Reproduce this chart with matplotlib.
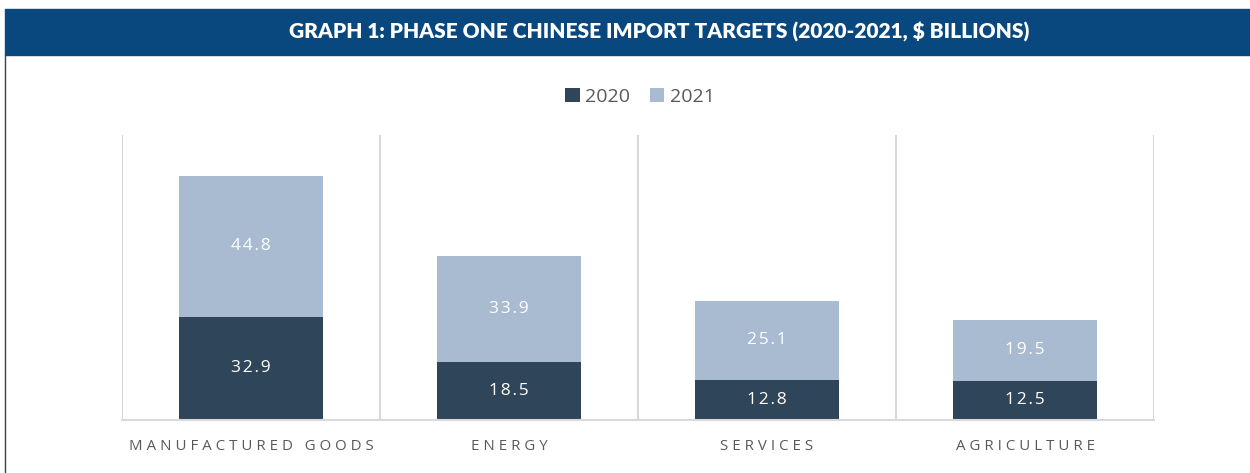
import matplotlib.pyplot as plt
import numpy as np
from matplotlib.patches import Rectangle
from matplotlib.lines import Line2D

# 图中的数据
categories = ['MANUFACTURED GOODS', 'ENERGY', 'SERVICES', 'AGRICULTURE']
vals_2020 = [32.9, 18.5, 12.8, 12.5]
vals_2021 = [44.8, 33.9, 25.1, 19.5]
series_names = ['2020', '2021']

c2020 = '#2F4559'
c2021 = '#A8BBD1'
grid_c = '#D9D9D9'
txt_c = '#595959'
fam = ['Open Sans', 'DejaVu Sans']


def spaced(s, sep='\u2009'):
    # 模拟字间距
    return sep.join(s)


fig = plt.figure(figsize=(12.5, 4.73), dpi=100)

# 标题横幅
fig.patches.append(Rectangle((5 / 1250, 1 - 55 / 473), 1 - 5 / 1250, 46 / 473,
                             transform=fig.transFigure, color='#09477F', zorder=0))
fig.text(0.527, 1 - 32 / 473, 'GRAPH 1: PHASE ONE CHINESE IMPORT TARGETS (2020-2021, $ BILLIONS)',
         color='white', fontsize=15, fontweight='heavy', family=['Lato', 'DejaVu Sans'],
         ha='center', va='center')
# 左边框
fig.lines.append(Line2D([5 / 1250, 5 / 1250], [0, 1 - 55 / 473], transform=fig.transFigure,
                        color='#404040', lw=1.0))

ax = fig.add_axes([122 / 1250, 53 / 473, 1032 / 1250, 285 / 473])
x = np.arange(len(categories))
w = 0.558
b1 = ax.bar(x, vals_2020, w, color=c2020, label=series_names[0], zorder=2)
b2 = ax.bar(x, vals_2021, w, bottom=vals_2020, color=c2021, label=series_names[1], zorder=2)

for i in range(len(categories)):
    ax.text(x[i], vals_2020[i] / 2, spaced(f'{vals_2020[i]:.1f}', '\u200a'), color='white',
            fontsize=12.5, ha='center', va='center', family=fam)
    ax.text(x[i], vals_2020[i] + vals_2021[i] / 2, spaced(f'{vals_2021[i]:.1f}', '\u200a'),
            color='white', fontsize=12.5, ha='center', va='center', family=fam)

ax.set_xlim(-0.5, len(categories) - 0.5)
ax.set_ylim(0, 90.8)
ax.set_yticks([])
ax.set_xticks(x)
ax.set_xticklabels([spaced(c, '\u2009\u200a') for c in categories], color=txt_c, fontsize=10.8,
                   family=fam)
ax.tick_params(axis='x', length=0, pad=14)
ax.set_xticks(np.arange(-0.5, len(categories)), minor=True)
ax.tick_params(axis='x', which='minor', length=0)
ax.grid(axis='x', which='minor', color=grid_c, lw=1.5, zorder=0)
for s in ['top', 'left', 'right']:
    ax.spines[s].set_visible(False)
ax.spines['bottom'].set_color(grid_c)
ax.spines['bottom'].set_linewidth(1.5)

fig.legend(handles=[b1, b2], loc='center', bbox_to_anchor=(0.512, 1 - 97 / 473), ncol=2,
           frameon=False, handlelength=0.75, handleheight=0.75, handletextpad=0.3,
           columnspacing=1.0, prop={'family': fam, 'size': 14}, labelcolor=txt_c)

plt.savefig('out.png', dpi=100)
